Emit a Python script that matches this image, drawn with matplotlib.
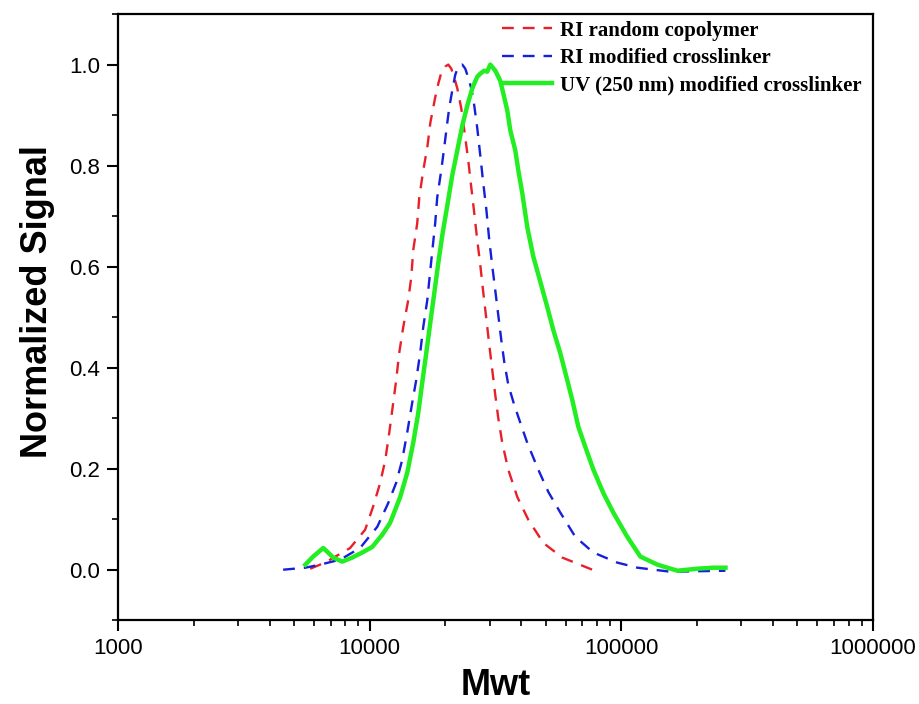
import matplotlib
matplotlib.use("Agg")
import matplotlib.pyplot as plt
from matplotlib.ticker import LogLocator, NullFormatter, MultipleLocator

# RI random copolymer
red_mw = [5800, 6350, 6970, 8360, 9590, 10320, 11010, 11530, 11960, 12400, 12740,
          13100, 13590, 14230, 14630, 14890, 15450, 15740, 16330, 16940, 17420,
          18210, 18730, 19250, 19960, 20520, 21100, 21680, 22290, 23120, 23760,
          24650, 25330, 26030, 26760, 27510, 28270, 29050, 29870, 30700, 31550,
          32430, 33640, 35540, 38590, 42680, 48970, 58270, 73240, 76700]
red_sig = [0.002, 0.010, 0.020, 0.043, 0.079, 0.125, 0.172, 0.217, 0.271, 0.330, 0.375,
           0.429, 0.480, 0.534, 0.579, 0.632, 0.686, 0.737, 0.791, 0.836, 0.885,
           0.935, 0.962, 0.984, 0.996, 1.000, 0.992, 0.974, 0.953, 0.913, 0.870,
           0.810, 0.757, 0.706, 0.652, 0.603, 0.549, 0.498, 0.445, 0.395, 0.346,
           0.300, 0.251, 0.198, 0.144, 0.099, 0.053, 0.024, 0.004, 0.000]

# RI modified crosslinker
blue_mw = [4530, 5550, 6350, 7640, 9160, 10720, 11850, 12740, 13460, 14090, 14750,
           15300, 15870, 16320, 16940, 17300, 17740, 18210, 18550, 19250, 19780,
           20340, 20710, 21290, 21880, 22490, 23330, 23970, 24650, 25330, 26030,
           26760, 27510, 28270, 29050, 29870, 30700, 31550, 32430, 33330, 34260,
           35540, 37540, 39670, 42290, 46770, 51260, 57220, 65640, 77420, 96400,
           115800, 156600, 259100]
blue_sig = [0.000, 0.004, 0.010, 0.020, 0.043, 0.085, 0.132, 0.172, 0.217, 0.271, 0.330,
            0.375, 0.429, 0.480, 0.534, 0.579, 0.632, 0.686, 0.737, 0.791, 0.836,
            0.885, 0.915, 0.949, 0.980, 0.996, 1.000, 0.992, 0.974, 0.953, 0.919,
            0.874, 0.820, 0.765, 0.715, 0.652, 0.601, 0.553, 0.504, 0.455, 0.411,
            0.366, 0.326, 0.291, 0.251, 0.198, 0.154, 0.113, 0.065, 0.034, 0.014,
            0.004, -0.004, -0.002]

# UV (250 nm) modified crosslinker
green_mw = [5550, 5960, 6540, 7170, 7780, 8520, 9340, 10230, 11210, 12060, 13220,
            14100, 14890, 15590, 16170, 16780, 17400, 18050, 18730, 19430, 20340,
            21290, 22290, 23330, 24430, 25560, 26760, 27510, 28530, 29320, 30140,
            31550, 33030, 33950, 35220, 36200, 37890, 38950, 40400, 42290, 44680,
            47640, 50770, 53690, 57170, 60970, 63830, 67450, 71900, 77440, 84750,
            92900, 105600, 119000, 139100, 167000, 200400, 232100, 259200]
green_sig = [0.010, 0.026, 0.043, 0.024, 0.016, 0.024, 0.034, 0.045, 0.069, 0.093, 0.144,
             0.192, 0.251, 0.310, 0.370, 0.429, 0.488, 0.547, 0.607, 0.662, 0.721,
             0.781, 0.830, 0.879, 0.919, 0.953, 0.976, 0.982, 0.988, 0.986, 1.000,
             0.988, 0.968, 0.943, 0.909, 0.870, 0.830, 0.791, 0.745, 0.678, 0.620,
             0.570, 0.520, 0.474, 0.429, 0.375, 0.336, 0.283, 0.243, 0.198, 0.152,
             0.113, 0.065, 0.026, 0.010, -0.002, 0.002, 0.004, 0.004]

labels = ["RI random copolymer", "RI modified crosslinker", "UV (250 nm) modified crosslinker"]

plt.rcParams['font.family'] = ['Liberation Sans', 'DejaVu Sans']

fig = plt.figure(figsize=(9.19, 7.04), dpi=100)
ax = fig.add_axes([0.1284, 0.119, 0.8216, 0.861])

ax.plot(red_mw, red_sig, color='#e8202a', lw=1.7, dashes=(5, 3.8), label=labels[0])
ax.plot(blue_mw, blue_sig, color='#1520d8', lw=1.7, dashes=(5, 3.8), label=labels[1])
ax.plot(green_mw, green_sig, color='#22ee22', lw=3.2, label=labels[2])

ax.set_xscale('log')
ax.set_xlim(1000, 1000000)
ax.set_ylim(-0.1, 1.1)
ax.xaxis.set_minor_locator(LogLocator(base=10, subs=range(2, 10), numticks=20))
ax.xaxis.set_minor_formatter(NullFormatter())
ax.set_xticks([1000, 10000, 100000, 1000000])
ax.set_xticklabels(['1000', '10000', '100000', '1000000'])
ax.yaxis.set_minor_locator(MultipleLocator(0.1))
ax.set_yticks([0.0, 0.2, 0.4, 0.6, 0.8, 1.0])
ax.set_yticklabels(['0.0', '0.2', '0.4', '0.6', '0.8', '1.0'])

ax.tick_params(which='major', direction='out', length=8, width=1.5, labelsize=16, pad=5)
ax.tick_params(which='minor', direction='out', length=4, width=1.2)
ax.tick_params(top=False, right=False, which='both')
for s in ax.spines.values():
    s.set_linewidth(1.6)

ax.set_xlabel('Mwt', fontsize=26, fontweight='bold', labelpad=6)
ax.set_ylabel('Normalized Signal', fontsize=26, fontweight='bold')
ax.yaxis.set_label_coords(-0.083, 0.525)

ax.legend(loc='upper right', bbox_to_anchor=(1.0, 1.008), frameon=False,
          handlelength=2.4, handletextpad=0.4, labelspacing=0.35, borderaxespad=0.15,
          prop={'family': ['Liberation Serif', 'DejaVu Serif'], 'weight': 'bold', 'size': 15})

fig.savefig('out.png', dpi=100, facecolor='white')
